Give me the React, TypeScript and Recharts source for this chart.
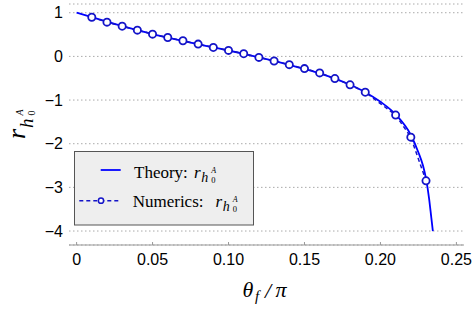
import React from "react";
import {
  LineChart,
  Line,
  XAxis,
  YAxis,
  CartesianGrid,
} from "recharts";

const theoryTheta = [
  0, 0.01, 0.02, 0.03, 0.04, 0.05, 0.06, 0.07, 0.08, 0.09, 0.1, 0.11, 0.12,
  0.13, 0.14, 0.15, 0.16, 0.17, 0.18, 0.19, 0.2, 0.21, 0.22, 0.225, 0.228,
  0.23, 0.232, 0.2335, 0.2345,
];
const theoryR = [
  1.0, 0.9, 0.795, 0.695, 0.6, 0.51, 0.43, 0.355, 0.28, 0.205, 0.135, 0.06,
  -0.02, -0.105, -0.195, -0.29, -0.39, -0.51, -0.65, -0.82, -1.04, -1.33,
  -1.8, -2.2, -2.5, -2.8, -3.25, -3.7, -4.0,
];

const numericsTheta = [
  0.01, 0.02, 0.03, 0.04, 0.05, 0.06, 0.07, 0.08, 0.09, 0.1, 0.11, 0.12, 0.13,
  0.14, 0.15, 0.16, 0.17, 0.18, 0.19, 0.21, 0.22, 0.23,
];
const numericsR = [
  0.897, 0.784, 0.692, 0.601, 0.51, 0.433, 0.358, 0.282, 0.205, 0.137, 0.062,
  -0.023, -0.105, -0.189, -0.28, -0.378, -0.508, -0.651, -0.82, -1.344, -1.85,
  -2.85,
];

const xTicks = [0, 0.05, 0.1, 0.15, 0.2, 0.25];
const yTicks = [-4, -3, -2, -1, 0, 1];

const theory = theoryTheta.map((t, i) => ({ theta: t, r: theoryR[i] }));
const numerics = numericsTheta.map((t, i) => ({ theta: t, r: numericsR[i] }));

const SANS = "'Liberation Sans', Arial, sans-serif";
const SERIF = "'Liberation Serif', 'Times New Roman', serif";
const THEORY_BLUE = "#0000ff";
const NUM_BLUE = "#1414c8";

const XTick = (props: any) => {
  const { x, y, payload } = props;
  const v = payload.value;
  return (
    <g>
      <line x1={x} x2={x} y1={y} y2={y - 3} stroke="#999" />
      <text
        x={x}
        y={y + 20}
        textAnchor="middle"
        fontFamily={SANS}
        fontSize={16}
        fill="#000"
      >
        {v === 0 ? "0" : v.toFixed(2)}
      </text>
    </g>
  );
};

// r_{h_0^A} as one text element, baseline at (x, y)
const RLabel = ({ x, y }: { x: number; y: number }) => (
  <text x={x} y={y} fontFamily={SERIF} fill="#000" fontStyle="italic">
    <tspan fontSize={17}>r</tspan>
    <tspan x={x + 7.3} y={y + 4} fontSize={14}>
      h
    </tspan>
    <tspan x={x + 17.3} y={y - 5} fontSize={8}>
      A
    </tspan>
    <tspan x={x + 17.3} y={y + 5.5} fontSize={8.5} fontStyle="normal">
      0
    </tspan>
  </text>
);

export default function App() {
  return (
    <div
      style={{
        position: "absolute",
        left: 0,
        top: 0,
        width: 473,
        height: 310,
        background: "#fff",
      }}
    >
      <LineChart
        width={473}
        height={310}
        margin={{ top: 4, right: 9, left: 0, bottom: 0 }}
      >
        <CartesianGrid
          vertical={false}
          stroke="#aaa"
          strokeDasharray="1.5 2.5"
        />
        <XAxis
          type="number"
          dataKey="theta"
          domain={[-0.005, 0.255]}
          ticks={xTicks}
          allowDataOverflow
          height={65}
          axisLine={{ stroke: "#999" }}
          tickLine={false}
          tickSize={0}
          tickMargin={0}
          tick={<XTick />}
          interval={0}
        />
        <YAxis
          type="number"
          dataKey="r"
          domain={[-4.32, 1.2]}
          ticks={yTicks}
          allowDataOverflow
          width={69}
          axisLine={false}
          tickLine={false}
          tickSize={0}
          tickMargin={6}
          interval={0}
          tick={{ fill: "#000", fontSize: 16, fontFamily: SANS }}
          tickFormatter={(v: number) => String(v).replace("-", "\u2212")}
        />
        <Line
          data={theory}
          dataKey="r"
          type="monotone"
          stroke={THEORY_BLUE}
          strokeWidth={1.8}
          dot={false}
          isAnimationActive={false}
        />
        <Line
          data={numerics}
          dataKey="r"
          type="linear"
          stroke={NUM_BLUE}
          strokeWidth={1.5}
          strokeDasharray="4 3"
          dot={{ r: 3.6, fill: "#fff", stroke: NUM_BLUE, strokeWidth: 1.8, strokeDasharray: "0" }}
          isAnimationActive={false}
        />
      </LineChart>

      <svg
        width={473}
        height={310}
        style={{ position: "absolute", left: 0, top: 0, pointerEvents: "none" }}
      >
        {/* legend */}
        <rect
          x={74.5}
          y={151.5}
          width={179}
          height={73.5}
          fill="#eeeeee"
          stroke="#555"
        />
        <line x1={100.7} x2={120.7} y1={170} y2={170} stroke={THEORY_BLUE} strokeWidth={1.8} />
        <text x={134} y={177.7} fontFamily={SERIF} fontSize={17}>
          Theory:
        </text>
        <RLabel x={194} y={177.7} />
        <line
          x1={79.3}
          x2={120.7}
          y1={200.7}
          y2={200.7}
          stroke={NUM_BLUE}
          strokeWidth={1.5}
          strokeDasharray="4 3"
        />
        <circle cx={101} cy={200.7} r={2.6} fill="#fff" stroke={NUM_BLUE} strokeWidth={1.5} />
        <text x={132.7} y={206.7} fontFamily={SERIF} fontSize={17}>
          Numerics:
        </text>
        <RLabel x={215.5} y={206.7} />

        {/* y label */}
        <g transform="translate(25,139) rotate(-90)">
          <text x={0} y={0} fontFamily={SERIF} fill="#000" fontStyle="italic">
            <tspan fontSize={26}>r</tspan>
            <tspan x={11} y={7.5} fontSize={19}>
              h
            </tspan>
            <tspan x={23.5} y={-2} fontSize={10}>
              A
            </tspan>
            <tspan x={23.5} y={9.5} fontSize={10} fontStyle="normal">
              0
            </tspan>
          </text>
        </g>

        {/* x label */}
        <text x={242.5} y={297} fontFamily={SERIF} fill="#000" fontStyle="italic">
          <tspan fontSize={22}>θ</tspan>
          <tspan x={255} y={300.5} fontSize={15}>
            f
          </tspan>
          <tspan x={265} y={298} fontSize={22}>
            /
          </tspan>
          <tspan x={275.5} y={297} fontSize={22}>
            π
          </tspan>
        </text>
      </svg>
    </div>
  );
}
